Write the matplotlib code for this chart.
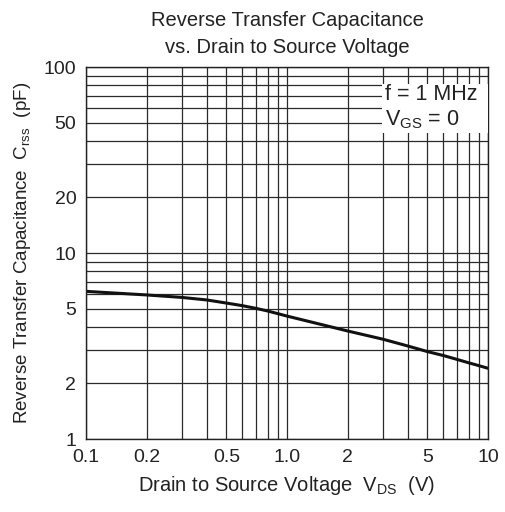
import matplotlib.pyplot as plt
from matplotlib.patches import Rectangle
from matplotlib.ticker import FixedLocator, FixedFormatter, NullFormatter

plt.rcParams['font.family'] = ['Liberation Sans', 'DejaVu Sans']

# curve
vds = [0.1, 0.2, 0.3, 0.4, 0.5, 0.6, 0.7, 0.8, 0.9, 1.0,
       2.0, 3.0, 4.0, 5.0, 6.0, 7.0, 8.0, 9.0, 10.0]
crss = [6.22, 5.95, 5.77, 5.59, 5.38, 5.21, 5.04, 4.88, 4.72, 4.58,
        3.81, 3.44, 3.16, 2.95, 2.81, 2.68, 2.57, 2.48, 2.40]

x_ticks = [0.1, 0.2, 0.5, 1.0, 2, 5, 10]
x_labels = ["0.1", "0.2", "0.5", "1.0", "2", "5", "10"]
y_ticks = [1, 2, 5, 10, 20, 50, 100]
y_labels = ["1", "2", "5", "10", "20", "50", "100"]

ink = "#222222"

fig = plt.figure(figsize=(5.05, 5.12), dpi=100)
ax = fig.add_axes([86 / 505, 1 - 439 / 512, 402 / 505, 372 / 512])

ax.set_xscale("log")
ax.set_yscale("log")
ax.set_xlim(0.1, 10)
ax.set_ylim(1, 100)

grid_x = [m * 10.0 ** e for e in (-1, 0) for m in range(1, 10)] + [10]
grid_y = [m * 10.0 ** e for e in (0, 1) for m in range(1, 10)] + [100]
ax.xaxis.set_major_locator(FixedLocator(x_ticks))
ax.xaxis.set_major_formatter(FixedFormatter(x_labels))
ax.xaxis.set_minor_locator(FixedLocator(grid_x))
ax.xaxis.set_minor_formatter(NullFormatter())
ax.yaxis.set_major_locator(FixedLocator(y_ticks))
ax.yaxis.set_major_formatter(FixedFormatter(y_labels))
ax.yaxis.set_minor_locator(FixedLocator(grid_y))
ax.yaxis.set_minor_formatter(NullFormatter())
ax.tick_params(which="both", length=0, labelsize=14, colors=ink)
ax.tick_params(axis="x", pad=7)
ax.tick_params(axis="y", pad=7)
ax.grid(which="both", color="#2a2a2a", linewidth=0.9)

ax.plot(vds, crss, color="#111111", linewidth=2.2)

for s in ax.spines.values():
    s.set_linewidth(1.0)
    s.set_color(ink)

# condition box in the upper right
ax.add_patch(Rectangle((0.736, 0.823), 0.264, 0.132, transform=ax.transAxes,
                       facecolor="white", edgecolor="none", zorder=3))
ax.text(0.743, 0.927, "f = 1 MHz", transform=ax.transAxes, ha="left",
        va="center", fontsize=15.5, color=ink, zorder=4)
ax.text(0.743, 0.857, "V$_{\\mathregular{GS}}$ = 0", transform=ax.transAxes,
        ha="left", va="center", fontsize=15.5, color=ink, zorder=4)

ax.set_title("Reverse Transfer Capacitance\nvs. Drain to Source Voltage",
             fontsize=14.5, pad=10, linespacing=1.55, color=ink)
ax.set_xlabel("Drain to Source Voltage  V$_{\\mathregular{DS}}$  (V)", fontsize=14.5,
              labelpad=6, color=ink)
ax.set_ylabel("Reverse Transfer Capacitance  C$_{\\mathregular{rss}}$  (pF)",
              fontsize=13.5, labelpad=8, color=ink)

fig.savefig("out.png", dpi=100)
